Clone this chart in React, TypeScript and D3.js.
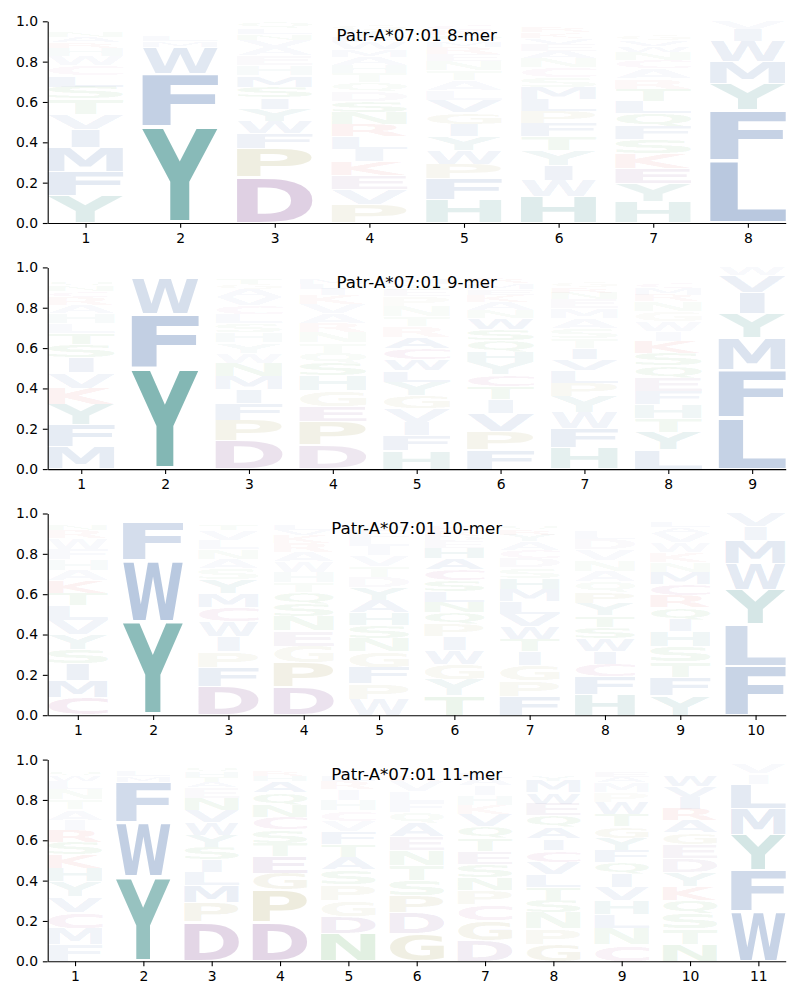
import React, { useEffect, useRef } from "react";
import * as d3 from "d3";

const titles = ["Patr-A*07:01 8-mer", "Patr-A*07:01 9-mer", "Patr-A*07:01 10-mer", "Patr-A*07:01 11-mer"];
const yTicks = [0, 0.2, 0.4, 0.6, 0.8, 1.0];

// Each string = one position; letter followed by its frequency (percent), bottom to top.
const mer8: string[] = [
  "Y13.5 F12 M12 I9 V7.5 T7.5 S6 L5.5 C5 W4.5 H4 R3 A2.5 N2.5 Q2 E1.5 G1 P1",
  "Y48 F26 W13 M3 L2.5 H2 I1.5 V1.5 A1.5 S1",
  "D22.5 P14.5 F7.5 W6 Y6 I5.5 S5.5 M5.5 H5 E5 A4 V3.5 N3 L3 Q3 T0.5",
  "P9 V7.5 E7 K7 I6 L6 R6 N6 S5.5 D5 Q4.5 T4.5 H4 A4 M3.5 W3.5 F3 Y3 G2.5 C2",
  "H11.5 F10.5 P7.5 W7 Y7 I6 G6 V6 L5 A5 T5 N4.5 E3.5 R3.5 M3 Q3 K2.5 C2.5 S2",
  "H13 W8 I7.5 Y7.5 T7 F6.5 P6 L6 M6 S5 C5 N4.5 A3.5 E3.5 V3 K3 R2.5 G2 D1",
  "H10.5 Y9 E7.5 K7.5 S7 F6.5 Q6.5 L6 T6 R5 A5 C4 N4 W3 V3 G2.5 P2 D2 M1.5 I1.5",
  "L31 F25 Y13 M11 W10 I6 V4",
];

const mer9: string[] = [
  "M11 F11 Y10 K8 V7.5 I7.5 S6.5 T5.5 L5 H5 A4 R4 C3 N2.5 Q2.5 G2 W2 P1.5 E1",
  "Y50 F27 W18 M2 L1.5 H1.5",
  "D14 P10 F8 I7 M6.5 N6.5 W5 Y5 H5 S4.5 L4.5 C4.5 V4 A4 G2.5 T2.5 E2 Q2 K1.5",
  "D11.5 P11.5 E7.5 G7.5 H7.5 S6 Q5 T5 N5 R4.5 A4.5 V4.5 K4.5 I3 L2.5 M2.5 F2 W2 C1.5",
  "H9 F7.5 I6.5 V6.5 G6.5 Y6.5 L5.5 W5.5 C5.5 A5.5 R5 T5 N5 P5 E3 S3 M2.5 D2 Q2 K1.5",
  "F9.5 P9 V9 I7 T6.5 C6 Y6 H5.5 Q5.5 S5.5 W5.5 N4 A4 K3.5 E3 M3 R2.5 G2 D2 L1.5",
  "H10.5 F9.5 W8 Y8 P6.5 L6 V5.5 I5.5 T5 S5 A5 M5 E4.5 N3 R2.5 G2.5 Q2 K2 D2 C1.5",
  "L9.5 Y8.5 T7 H7 F6.5 E6.5 Q6 S6 K6 I5 W5 G5 N5 R3 M3 C2.5 P2 D2 V2 A2",
  "L25.5 F23.5 M16 Y12 I10.5 V8.5 W4",
];

const mer10: string[] = [
  "C8.5 M8 I8 S7 Y7 V7 L7 T6 K6 A5 H5 F5 W5 R4 N2.5 Q2 G2 E1.5",
  "Y46.5 W30.5 F19 M2 L2",
  "D13.5 F9 P7.5 I7 W7 C7 M6.5 Y6.5 S5 A4.5 N4.5 L4.5 V4.5 T2.5 E2 H2 K1.5",
  "D13.5 P12 G8 E7.5 N7 S6 Q5.5 T5 H5 W5 A4.5 R4.5 K4 V2.5 L2.5 I2 M2 Y1.5",
  "W7.5 P7.5 F7.5 G7.5 N6.5 S6 H6 A6 Y6 D5 T5 V5 I4.5 L4.5 E3 Q2.5 R2 M2 K1.5",
  "T9 Y7.5 G7 W6.5 I6.5 P5.5 Q5.5 N5 L5 S5 C5 A5 H5 E3 D2.5 R2.5 K2.5 M2 F2 V1.5",
  "F9 P7.5 G7.5 I6.5 T6 W6 V6 L6 M6 H5.5 S5 D4.5 C4 A4 Y3 R2.5 Q2.5 N2 E2 K1.5",
  "H9.5 F8.5 C6 I6 W6 S5.5 T5.5 Y5.5 P5.5 Q5 A5 N5 V5 D5 L4 E2 G2 R2 K2",
  "Y9 F8.5 T7 S7 H7 I5.5 Q5.5 R5.5 C5.5 M5.5 N4.5 K4.5 W4.5 V4.5 A2.5 L2.5 E2 G2",
  "F24.5 L20.5 Y17 W13 M11.5 I7 V6.5",
];

const mer11: string[] = [
  "F8 M8 C8 V7.5 Y7.5 H6.5 K6.5 S6 R6 I5 A5 T5 N5 L4 W2.5 Q2.5 E2 G2 P1.5",
  "Y42 W27 F20 M3 L2.5 H2 I2 V1.5",
  "D19 P9.5 M8 L6.5 I6 S6 Y6 W6 V6 N6 E5 A2.5 T2.5 H2.5 Q2.5 G2 K1.5",
  "D19 P15.5 G8 E8 T6.5 S6.5 C6 N6 Q6 A5.5 H2.5 R2.5 K2 V2 I1.5",
  "N13 D8 G7.5 P7.5 S7 A6 T6 F6 V5 C5 H5 I5 R4 L2.5 M2 W2 Q2 Y1.5",
  "G13 D10 P8 S7.5 T7 N7 E6.5 A6.5 Q5 F5 L5 V5 R2.5 K2 W2 M2 H1.5",
  "D9.5 G9.5 C7.5 P6.5 N6 S6 E6 T6 Q5.5 V5.5 K4.5 H4.5 I4.5 A3.5 L2.5 R2 W2 M2",
  "G8 P7.5 N7.5 S6 T6 L6 V6 C5.5 I5.5 A5.5 Q5.5 E5.5 W5.5 M5.5 Y2.5 K2 R2 F2 H1.5",
  "C7.5 N7.5 L6.5 H6.5 V6 I6 Q5.5 F5.5 Y5.5 G5.5 T5.5 W5.5 P4.5 M4.5 A2.5 E2.5 D2 R2 K1.5",
  "N8 T7 S7 Q6.5 K6.5 Y6.5 D6.5 E6.5 G5.5 A5.5 R5.5 I5.5 V5 W5 L2 M2 F2 H1.5",
  "W24.5 F20.5 Y17.5 M13 L12 I5 V5 H2",
];

const panels = [mer8, mer9, mer10, mer11];

const groupColor = {
  hydrophobic: "#2c5aa0",
  aromatic: "#1a7a75",
  acidic: "#7a3f8a",
  cys: "#a03c80",
  special: "#9a9040",
  basic: "#d03030",
  polar: "#3a9a3a",
};
const letterGroup: Record<string, keyof typeof groupColor> = {
  A: "hydrophobic", V: "hydrophobic", L: "hydrophobic", I: "hydrophobic", M: "hydrophobic", F: "hydrophobic", W: "hydrophobic",
  Y: "aromatic", H: "aromatic",
  D: "acidic", E: "acidic",
  C: "cys",
  P: "special", G: "special",
  K: "basic", R: "basic",
  S: "polar", T: "polar", N: "polar", Q: "polar",
};

const W = 800, H = 1000;
const left = 47.7, right = 785.7;
const top0 = 21.3, panelStep = 246.1, panelH = 201.7;
const glyphWidth = 0.8, vpad = 0.06;
const FONT = "'DejaVu Sans', 'Liberation Sans', sans-serif";

export default function App() {
  const ref = useRef<SVGSVGElement>(null);
  useEffect(() => {
    const svg = d3.select(ref.current);
    svg.selectAll("*").remove();
    const canvas = document.createElement("canvas");
    const ctx = canvas.getContext("2d")!;
    ctx.font = "bold 100px 'DejaVu Sans'";
    const cache: Record<string, { l: number; r: number; a: number; d: number }> = {};
    const measure = (ch: string) => {
      if (!cache[ch]) {
        const m = ctx.measureText(ch);
        cache[ch] = {
          l: m.actualBoundingBoxLeft ?? 0,
          r: m.actualBoundingBoxRight ?? m.width,
          a: m.actualBoundingBoxAscent ?? 73,
          d: m.actualBoundingBoxDescent ?? 0,
        };
      }
      return cache[ch];
    };

    panels.forEach((cols, pi) => {
      const n = cols.length;
      const top = top0 + pi * panelStep;
      const bottom = top + panelH;
      const x = d3.scaleLinear().domain([0.6, n + 0.4]).range([left, right]);
      const y = d3.scaleLinear().domain([0, 1]).range([bottom, top]);
      const g = svg.append("g");
      const glyphs = g.append("g");

      cols.forEach((col, ci) => {
        const entries = col.split(" ").map((s) => ({ letter: s[0], value: parseFloat(s.slice(1)) / 100 }));
        const total = d3.sum(entries, (e) => e.value);
        entries.forEach((e) => (e.value /= total));
        entries.sort((a, b) => b.value - a.value);
        const pos = ci + 1;
        let floor = 0;
        entries.forEach((e) => {
          const y0 = floor;
          const y1 = floor + e.value;
          floor = y1;
          const boxTop = y(y1);
          const boxBot = y(y0);
          const bh = (boxBot - boxTop) * (1 - vpad);
          const by = boxTop + ((boxBot - boxTop) * vpad) / 2;
          const fullW = x(pos + glyphWidth / 2) - x(pos - glyphWidth / 2);
          const bw = e.letter === "I" ? fullW * 0.37 : fullW;
          const bx = x(pos) - bw / 2;
          const m = measure(e.letter);
          const inkW = m.l + m.r;
          const inkH = m.a + m.d;
          const sx = bw / inkW;
          const sy = bh / inkH;
          glyphs
            .append("text")
            .attr("transform", `translate(${bx + m.l * sx},${by + m.a * sy}) scale(${sx},${sy})`)
            .attr("font-family", "DejaVu Sans")
            .attr("font-weight", "bold")
            .attr("font-size", 100)
            .attr("fill", groupColor[letterGroup[e.letter]])
            .attr("fill-opacity", Math.min(1, e.value * 1.08))
            .text(e.letter);
        });
      });

      const yAxis = d3
        .axisLeft(y)
        .tickValues(yTicks)
        .tickFormat(d3.format(".1f"))
        .tickSize(4.86)
        .tickPadding(4.86)
        .tickSizeOuter(0);
      const ya = g.append("g").attr("transform", `translate(${left},0)`).call(yAxis);
      const xAxis = d3
        .axisBottom(x)
        .tickValues(d3.range(1, n + 1))
        .tickFormat(d3.format("d"))
        .tickSize(4.86)
        .tickPadding(4.86)
        .tickSizeOuter(0);
      const xa = g.append("g").attr("transform", `translate(0,${bottom})`).call(xAxis);
      [ya, xa].forEach((a) => {
        a.attr("font-size", 13.9).attr("font-family", FONT);
        a.selectAll("path, line").attr("stroke", "#000").attr("stroke-width", 1.1);
        a.selectAll("text").attr("fill", "#000");
      });

      g.append("text")
        .attr("x", (left + right) / 2)
        .attr("y", top + 0.1 * panelH)
        .attr("text-anchor", "middle")
        .attr("font-family", FONT)
        .attr("font-size", 16.67)
        .attr("fill", "#000")
        .text(titles[pi]);
    });
  }, []);
  return (
    <svg
      ref={ref}
      width={W}
      height={H}
      style={{ position: "absolute", left: 0, top: 0, background: "#fff" }}
    />
  );
}
